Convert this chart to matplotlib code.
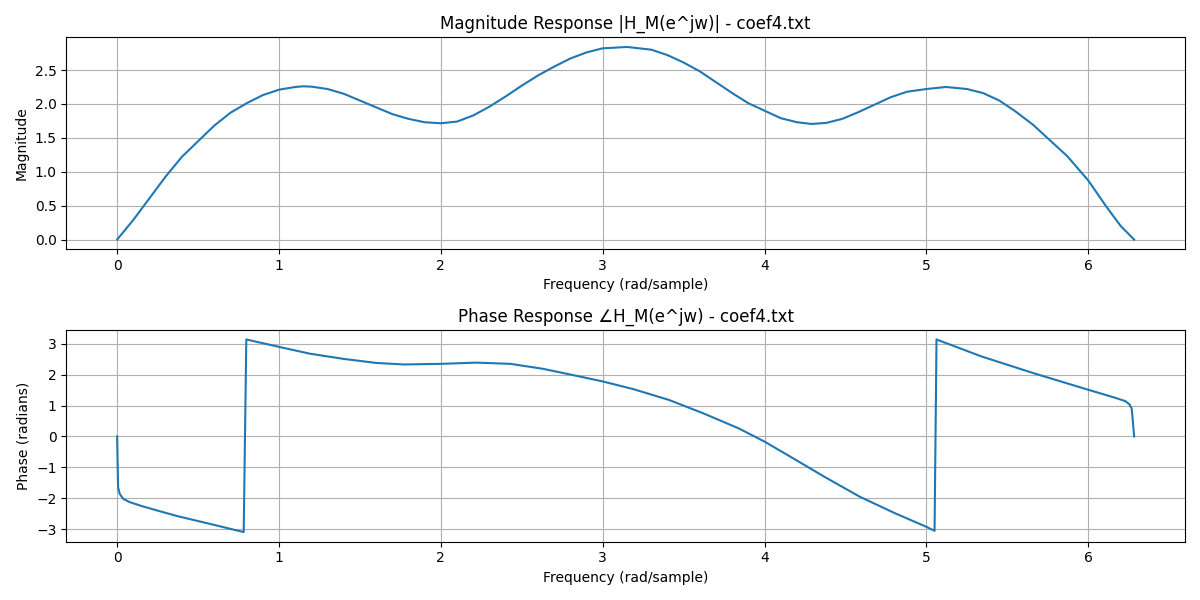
import numpy as np
import matplotlib
matplotlib.use("Agg")
import matplotlib.pyplot as plt

# magnitude response
mag_w = [0.0, 0.1, 0.2, 0.3, 0.4, 0.5, 0.6, 0.7, 0.8, 0.9, 1.0, 1.1, 1.15, 1.2,
         1.3, 1.4, 1.5, 1.6, 1.7, 1.8, 1.9, 2.0, 2.1, 2.2, 2.3, 2.4, 2.5, 2.6,
         2.7, 2.8, 2.9, 3.0, 3.15, 3.3, 3.4, 3.5, 3.6, 3.7, 3.8, 3.9, 4.0, 4.1,
         4.2, 4.29, 4.38, 4.48, 4.58, 4.68, 4.78, 4.88, 5.0, 5.12, 5.25, 5.35,
         5.45, 5.55, 5.66, 5.76, 5.87, 6.0, 6.11, 6.2, 6.283]
mag_val = [0.0, 0.29, 0.61, 0.93, 1.22, 1.45, 1.68, 1.87, 2.01, 2.13, 2.21, 2.25, 2.26, 2.255,
           2.22, 2.15, 2.05, 1.95, 1.85, 1.78, 1.73, 1.715, 1.74, 1.83, 1.96, 2.11, 2.27, 2.42,
           2.55, 2.67, 2.76, 2.82, 2.84, 2.80, 2.72, 2.61, 2.48, 2.32, 2.16, 2.01, 1.90, 1.79,
           1.73, 1.705, 1.72, 1.78, 1.88, 1.99, 2.10, 2.18, 2.22, 2.25, 2.22, 2.16,
           2.05, 1.89, 1.69, 1.47, 1.23, 0.87, 0.49, 0.20, 0.0]

# phase response
ph_w = [0.0, 0.006, 0.016, 0.037, 0.078, 0.16, 0.37, 0.57, 0.782, 0.798, 1.0, 1.19,
        1.4, 1.6, 1.77, 2.0, 2.22, 2.43, 2.63, 2.84, 3.0, 3.19, 3.41, 3.62, 3.84,
        4.0, 4.16, 4.37, 4.59, 4.81, 5.0, 5.05, 5.062, 5.34, 5.66, 6.0, 6.16, 6.23,
        6.255, 6.268, 6.283]
ph_val = [0.0, -1.65, -1.86, -2.02, -2.13, -2.27, -2.58, -2.83, -3.10, 3.14, 2.90, 2.68,
          2.51, 2.38, 2.33, 2.35, 2.39, 2.35, 2.19, 1.96, 1.78, 1.53, 1.18, 0.75, 0.26,
          -0.17, -0.66, -1.31, -1.96, -2.50, -2.93, -3.06, 3.14, 2.59, 2.05, 1.51, 1.26, 1.14,
          1.03, 0.90, 0.0]

fig, (ax1, ax2) = plt.subplots(2, 1, figsize=(12, 6))

ax1.plot(mag_w, mag_val)
ax1.set_title('Magnitude Response |H_M(e^jw)| - coef4.txt')
ax1.set_xlabel('Frequency (rad/sample)')
ax1.set_ylabel('Magnitude')
ax1.grid(True)

ax2.plot(ph_w, ph_val)
ax2.set_title('Phase Response \u2220H_M(e^jw) - coef4.txt')
ax2.set_xlabel('Frequency (rad/sample)')
ax2.set_ylabel('Phase (radians)')
ax2.grid(True)

plt.tight_layout()
plt.savefig('out.png', dpi=100)
